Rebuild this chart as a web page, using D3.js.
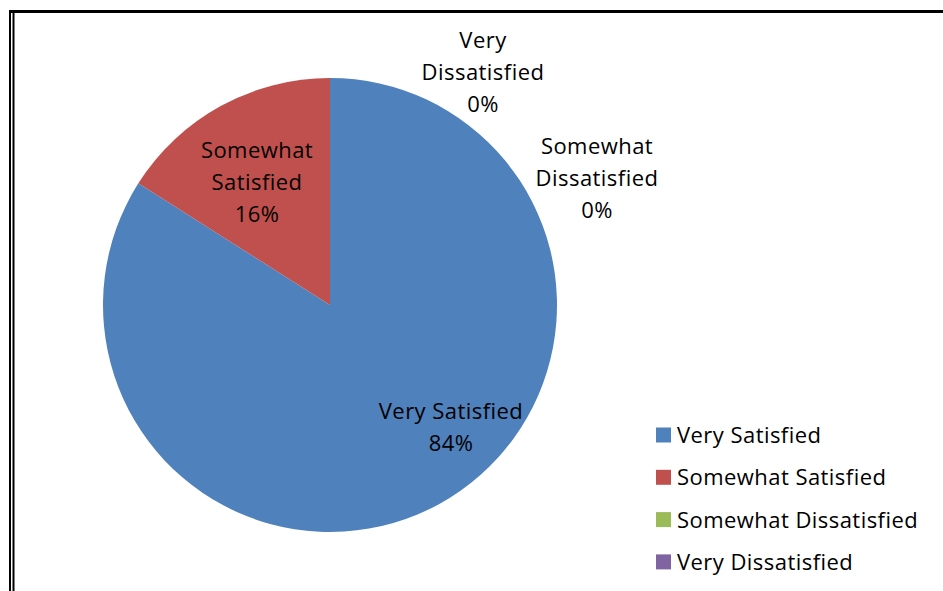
<!DOCTYPE html>
<html><head><meta charset="utf-8">
<script src="https://cdn.jsdelivr.net/npm/d3@7"></script>
<style>html,body{margin:0;padding:0;background:#fff;}svg{display:block;}text{font-variant-ligatures:none;}</style>
</head><body>
<svg id="chart" width="943" height="591"></svg>
<script>
const categories = ["Very Satisfied", "Somewhat Satisfied", "Somewhat Dissatisfied", "Very Dissatisfied"];
const values = [84, 16, 0, 0];
const colors = ["#4F81BD", "#C0504D", "#9BBB59", "#8064A2"];
const labelLines = [["Very Satisfied", "84%"], ["Somewhat", "Satisfied", "16%"], ["Somewhat", "Dissatisfied", "0%"], ["Very", "Dissatisfied", "0%"]];

const FONT = "'Open Sans', 'Noto Sans', sans-serif";
const FS = 22;
const LS = 0.45;
const W = 943, H = 591;
const svg = d3.select("#chart");

// frame
svg.append("line").attr("x1", 9).attr("x2", W).attr("y1", 11.5).attr("y2", 11.5).attr("stroke", "#000").attr("stroke-width", 3);
svg.append("line").attr("x1", 10).attr("x2", 10).attr("y1", 10).attr("y2", H).attr("stroke", "#000").attr("stroke-width", 2);
svg.append("line").attr("x1", 13.5).attr("x2", 13.5).attr("y1", 13).attr("y2", H).attr("stroke", "#000").attr("stroke-width", 2);

const cx = 330, cy = 305, R = 227;
const pie = d3.pie().sort(null).value(d => d)(values);
const arc = d3.arc().innerRadius(0).outerRadius(R);
const color = d3.scaleOrdinal().domain(categories).range(colors);

const g = svg.append("g").attr("transform", `translate(${cx},${cy})`);
g.selectAll("path").data(pie).join("path")
  .attr("d", arc)
  .attr("fill", (d, i) => color(categories[i]));

// label anchor points (label box centres, relative to pie centre)
const labelPos = [[121, 122], [-73, -123], [267, -127], [153, -233]];
const lineH = 32;
labelLines.forEach((lines, i) => {
  const [lx, ly] = labelPos[i];
  const t = g.append("text").attr("text-anchor", "middle")
    .attr("font-family", FONT).attr("font-size", FS).attr("letter-spacing", LS).attr("fill", "#000");
  lines.forEach((s, j) => {
    t.append("tspan").attr("x", lx)
      .attr("y", ly + (j - (lines.length - 1) / 2) * lineH + 8)
      .text(s);
  });
});

// legend
const lg = svg.append("g").attr("transform", "translate(656,435)");
categories.forEach((c, i) => {
  const row = lg.append("g").attr("transform", `translate(0,${i * 42.3})`);
  row.append("rect").attr("x", 0).attr("y", -7.5).attr("width", 15).attr("height", 15).attr("fill", color(c));
  row.append("text").attr("x", 21).attr("y", 8).attr("font-family", FONT).attr("font-size", FS).attr("letter-spacing", LS).attr("fill", "#000").text(c);
});
</script>
</body></html>
